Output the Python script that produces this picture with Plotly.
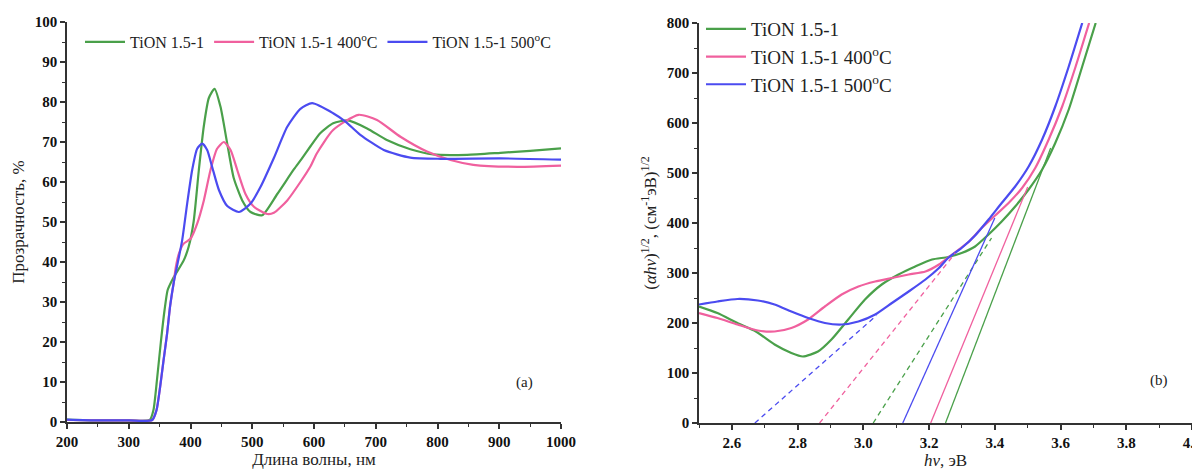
import plotly.graph_objects as go

# ---------------- Panel (a): transmittance spectra ----------------
wl_green = [200, 250, 300, 334, 340, 346, 352, 358, 363, 370, 376, 389, 397, 405, 413.5, 421.6,
            429.7, 439, 448.6, 459.5, 470, 483.8, 497.3, 516, 540.5, 567.6, 580, 594.6, 610, 631,
            655, 686, 718, 756, 793, 848, 902, 950, 1000]
tr_green = [0.6, 0.4, 0.4, 0.5, 3, 11, 20, 28, 33, 35.4, 37, 40.4, 43.8, 50, 63, 74,
            81, 83.3, 78.8, 69.6, 61, 55.4, 52.5, 51.7, 57, 63.2, 65.8, 69, 72.2, 74.7,
            75.4, 73.4, 70.5, 68.2, 66.9, 66.8, 67.3, 67.8, 68.4]

wl_pink = [200, 250, 300, 338, 345, 351, 356, 362, 367, 373, 376, 381, 389, 400, 410.8, 421.6,
           432.4, 443, 454, 464.9, 475.7, 489, 502.7, 524.3, 535, 556.7, 578, 594.6, 604.7, 631,
           672, 702, 740, 783, 821, 858, 929, 1000]
tr_pink = [0.5, 0.4, 0.4, 0.5, 3, 9, 15, 22, 29, 35, 38.5, 42, 44.6, 45.8, 49.6, 55.4,
           63, 68.3, 70, 68, 63, 57, 53.8, 52, 52.3, 55.4, 60, 64, 67.2, 73,
           76.8, 75.5, 71.3, 67.6, 65.5, 64.3, 63.8, 64.1]

wl_blue = [200, 250, 300, 338, 345, 351, 356, 362, 367, 373, 378, 386.5, 394.6, 402.7, 410.8,
           419, 427, 435, 446, 459.5, 478.4, 497.3, 513.5, 535, 556.7, 578, 597, 631, 651,
           675, 713, 756, 805, 902, 1000]
tr_blue = [0.6, 0.4, 0.4, 0.5, 3, 9, 15, 22, 29, 35, 38.8, 45.4, 54.6, 63, 68.3,
           69.6, 68, 63.8, 58, 54, 52.5, 54.6, 58.8, 66, 73.8, 78.3, 79.7, 77.2, 75.1,
           71.8, 68, 66.1, 65.8, 65.9, 65.6]

# ---------------- Panel (b): Tauc plots ----------------
ev_green = [2.5, 2.556, 2.617, 2.673, 2.73, 2.781, 2.816, 2.862, 2.903, 2.954, 3.005, 3.056,
            3.107, 3.158, 3.209, 3.258, 3.299, 3.34, 3.381, 3.421, 3.462, 3.503, 3.544, 3.584,
            3.625, 3.666, 3.707]
ta_green = [233, 220, 200, 183, 157, 140, 133, 143, 167, 207, 247, 277,
            297, 313, 327, 332, 340, 353, 377, 403, 433, 467, 507, 560,
            627, 713, 800]

ev_pink = [2.5, 2.556, 2.617, 2.679, 2.73, 2.781, 2.832, 2.883, 2.934, 2.985, 3.036, 3.087,
           3.138, 3.189, 3.23, 3.26, 3.32, 3.36, 3.401, 3.442, 3.483, 3.523, 3.564, 3.605,
           3.646, 3.687]
ta_pink = [220, 210, 197, 185, 183, 190, 207, 233, 257, 273, 283, 290,
           297, 303, 317, 332, 362, 390, 415, 440, 470, 510, 567, 633,
           713, 800]

ev_blue = [2.5, 2.556, 2.617, 2.679, 2.73, 2.781, 2.832, 2.883, 2.934, 2.985, 3.036, 3.087,
           3.138, 3.189, 3.23, 3.258, 3.299, 3.34, 3.381, 3.421, 3.462, 3.503, 3.544, 3.584,
           3.625, 3.666]
ta_blue = [237, 243, 248, 245, 237, 223, 210, 200, 197, 203, 217, 240,
           263, 287, 310, 330, 350, 375, 407, 440, 473, 513, 567, 633,
           713, 800]

# Linear extrapolations (x endpoints, y endpoints)
dash_blue_x, dash_blue_y = [2.670, 3.04], [0, 215]
dash_pink_x, dash_pink_y = [2.867, 3.28], [0, 340]
dash_green_x, dash_green_y = [3.03, 3.39], [0, 370]
fit_blue_x, fit_blue_y = [3.12, 3.40], [0, 410]
fit_pink_x, fit_pink_y = [3.205, 3.50], [0, 472]
fit_green_x, fit_green_y = [3.25, 3.57], [0, 550]

names = ["TiON 1.5-1", "TiON 1.5-1 400<sup>o</sup>C", "TiON 1.5-1 500<sup>o</sup>C"]
GREEN, PINK, BLUE = "#4aa04a", "#f0609e", "#4b4bf0"

FONT = "Liberation Serif, Times New Roman, serif"
AXC = "#333333"

# page body adds an 8px offset; figure coordinates = screen pixels - 8
W, H, OFF = 1192, 465, 8
def px(x):
    return (x - OFF) / W
def py(y):
    return 1 - (y - OFF) / H

fig = go.Figure()

for x, y, nm, c in [(wl_green, tr_green, names[0], GREEN),
                    (wl_pink, tr_pink, names[1], PINK),
                    (wl_blue, tr_blue, names[2], BLUE)]:
    fig.add_trace(go.Scatter(x=x, y=y, name=nm, mode="lines",
                             line=dict(color=c, width=2.2, shape="spline", smoothing=0.6),
                             xaxis="x", yaxis="y", legend="legend"))

for x, y, nm, c in [(ev_green, ta_green, names[0], GREEN),
                    (ev_pink, ta_pink, names[1], PINK),
                    (ev_blue, ta_blue, names[2], BLUE)]:
    fig.add_trace(go.Scatter(x=x, y=y, name=nm, mode="lines",
                             line=dict(color=c, width=2.2, shape="spline", smoothing=0.6),
                             xaxis="x2", yaxis="y2", legend="legend2"))

for x, y, c, d in [(dash_blue_x, dash_blue_y, BLUE, "5px,4px"),
                   (dash_pink_x, dash_pink_y, PINK, "5px,4px"),
                   (dash_green_x, dash_green_y, GREEN, "5px,4px"),
                   (fit_blue_x, fit_blue_y, BLUE, "solid"),
                   (fit_pink_x, fit_pink_y, PINK, "solid"),
                   (fit_green_x, fit_green_y, GREEN, "solid")]:
    fig.add_trace(go.Scatter(x=x, y=y, mode="lines", showlegend=False,
                             line=dict(color=c, width=1.3, dash=d),
                             xaxis="x2", yaxis="y2"))

tickfont = dict(family=FONT, size=15, color="#111111", weight="bold")
titlefont = dict(family=FONT, size=17, color="#222222")

def ax(**kw):
    base = dict(showline=True, linecolor=AXC, linewidth=1.5, ticks="outside",
                ticklen=5, tickwidth=1.5, tickcolor=AXC, showgrid=False, zeroline=False,
                tickfont=tickfont, mirror=False, automargin=False,
                ticklabeloverflow="allow")
    base.update(kw)
    return base

fig.update_layout(
    width=W, height=H,
    margin=dict(l=0, r=0, t=0, b=0),
    paper_bgcolor="white", plot_bgcolor="white",
    xaxis=ax(domain=[px(67), px(561)], range=[200, 1000], dtick=100, tick0=200,
             minor=dict(ticks="outside", ticklen=3, tickwidth=1.2, tickcolor=AXC, dtick=50),
             title=dict(text="Длина волны, нм", font=titlefont, standoff=2), anchor="y"),
    yaxis=ax(domain=[py(422), py(22)], range=[0, 100], dtick=10,
             minor=dict(ticks="outside", ticklen=3, tickwidth=1.2, tickcolor=AXC, dtick=5),
             title=dict(text="Прозрачность, %", font=titlefont, standoff=6), anchor="x"),
    xaxis2=ax(domain=[px(699), px(1192)], range=[2.5, 4.0], dtick=0.2, tick0=2.6,
              tickformat=".1f",
              minor=dict(ticks="outside", ticklen=3, tickwidth=1.2, tickcolor=AXC, dtick=0.1, tick0=2.5),
              title=dict(text="<i>hv</i>, эВ", font=titlefont, standoff=2), anchor="y2"),
    yaxis2=ax(domain=[py(423), py(23)], range=[0, 800], dtick=100,
              minor=dict(ticks="outside", ticklen=3, tickwidth=1.2, tickcolor=AXC, dtick=50),
              title=dict(text="(<i>αhv</i>)<sup>1/2</sup>, (см<sup>-1</sup>эВ)<sup>1/2</sup>",
                         font=titlefont, standoff=6), anchor="x2"),
    legend=dict(orientation="h", x=px(80), y=py(42), xanchor="left", yanchor="middle",
                font=dict(family=FONT, size=16, color="#222222"), bgcolor="rgba(0,0,0,0)",
                itemwidth=40, tracegroupgap=0),
    legend2=dict(orientation="v", x=px(701), y=py(10), xanchor="left", yanchor="top",
                 font=dict(family=FONT, size=19, color="#222222"), bgcolor="rgba(0,0,0,0)",
                 itemwidth=40),
    annotations=[
        dict(text="(a)", x=941, y=9.8, xref="x", yref="y", showarrow=False,
             font=dict(family=FONT, size=15, color="#222222")),
        dict(text="(b)", x=3.9, y=86, xref="x2", yref="y2", showarrow=False,
             font=dict(family=FONT, size=15, color="#222222")),
    ],
)

fig.write_html("out.html")
